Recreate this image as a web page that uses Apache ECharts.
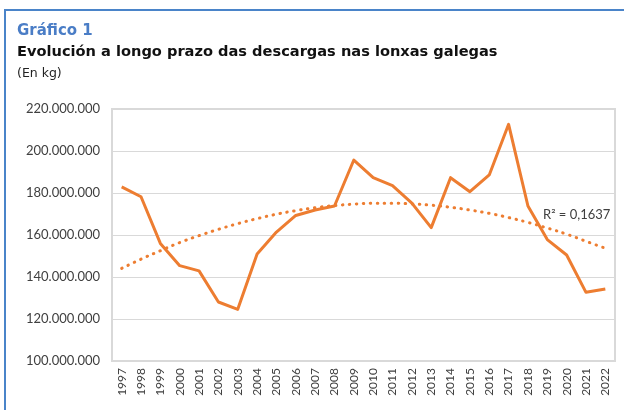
<!DOCTYPE html>
<html>
<head>
<meta charset="utf-8">
<script src="https://cdn.jsdelivr.net/npm/echarts@6/dist/echarts.min.js"></script>
<style>
  html, body { margin: 0; padding: 0; background: #fff; }
  #chart { width: 624px; height: 410px; }
</style>
</head>
<body>
<div id="chart"></div>
<script>
const years = ['1997', '1998', '1999', '2000', '2001', '2002', '2003', '2004', '2005',
  '2006', '2007', '2008', '2009', '2010', '2011', '2012', '2013', '2014', '2015',
  '2016', '2017', '2018', '2019', '2020', '2021', '2022']

// descargas (kg)
const landings = [182900000, 178200000, 156000000, 145400000, 142900000, 128100000,
  124600000, 151000000, 161400000, 169300000, 171900000, 173800000, 195700000,
  187300000, 183500000, 175200000, 163500000, 187300000, 180600000, 188600000,
  212700000, 173800000, 157800000, 150500000, 132700000, 134300000]

// tendencia polinómica (kg)
const trend = [144100000, 148500000, 152500000, 156400000, 159700000, 162700000,
  165400000, 167800000, 169900000, 171600000, 173000000, 174000000, 174700000,
  175100000, 175100000, 174800000, 174200000, 173200000, 171900000, 170300000,
  168300000, 166000000, 163300000, 160400000, 157000000, 153700000]

const yTicks = { min: 100000000, max: 220000000, interval: 20000000 }

const fmt = (v) => String(Math.round(v)).replace(/\B(?=(\d{3})+(?!\d))/g, '.')

const chart = echarts.init(document.getElementById('chart'))
const font = 'Lato, "Open Sans", sans-serif'
const titleFont = '"DejaVu Sans", Lato, sans-serif'

chart.setOption({
  animation: false,
  textStyle: { fontFamily: font },
  graphic: [
    {
      type: 'rect',
      shape: { x: 5, y: 10, width: 640, height: 420 },
      style: { fill: 'none', stroke: '#4a84c9', lineWidth: 2 },
    },
    {
      type: 'text', left: 17, top: 24,
      style: { text: 'Gráfico 1', font: 'bold 15px ' + titleFont, fill: '#4a7dc6' },
    },
    {
      type: 'text', left: 17, top: 45,
      style: { text: 'Evolución a longo prazo das descargas nas lonxas galegas', font: 'bold 14.6px ' + titleFont, fill: '#111' },
    },
    {
      type: 'text', left: 17, top: 67,
      style: { text: '(En kg)', font: '12.5px ' + titleFont, fill: '#222' },
    },
    {
      type: 'text', left: 543, top: 208,
      style: { text: 'R² = 0,1637', font: '13px ' + font, fill: '#404040' },
    },
  ],
  grid: {
    left: 112, top: 109, right: 9, bottom: 49,
    show: true, borderColor: '#d9d9d9', borderWidth: 2, backgroundColor: '#fff',
  },
  xAxis: {
    type: 'category',
    data: years,
    boundaryGap: true,
    axisLine: { lineStyle: { color: '#d9d9d9', width: 2 } },
    axisTick: { show: false },
    axisLabel: { rotate: 90, margin: 7, fontSize: 12, color: '#404040', interval: 0 },
  },
  yAxis: {
    type: 'value',
    min: yTicks.min,
    max: yTicks.max,
    interval: yTicks.interval,
    axisLine: { show: false },
    axisTick: { show: false },
    axisLabel: { fontSize: 13, color: '#404040', margin: 12, formatter: fmt },
    splitLine: { lineStyle: { color: '#d9d9d9', width: 1 } },
  },
  series: [
    {
      type: 'line',
      data: trend,
      symbol: 'none',
      smooth: true,
      lineStyle: { color: '#ed7d31', width: 3, type: [0.5, 6.5], cap: 'round' },
      z: 2,
    },
    {
      type: 'line',
      data: landings,
      symbol: 'none',
      lineStyle: { color: '#ed7d31', width: 3, join: 'round' },
      z: 3,
    },
  ],
})
</script>
</body>
</html>
